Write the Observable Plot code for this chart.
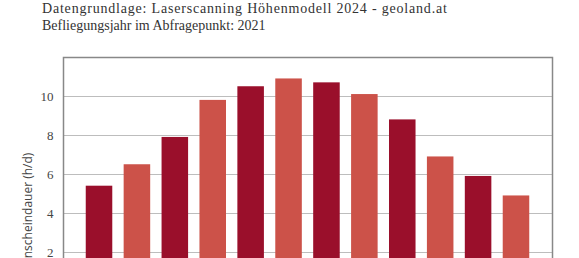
<!DOCTYPE html>
<html>
<head>
<meta charset="utf-8">
<script src="https://cdn.jsdelivr.net/npm/d3@7"></script>
<script src="https://cdn.jsdelivr.net/npm/@observablehq/plot@0.6"></script>
<style>
  html, body { margin: 0; padding: 0; background: #fff; overflow: hidden; }
  #title { padding-left: 42px; font-family: "Liberation Serif", serif; font-size: 14px; line-height: 17px; color: #333; height: 34px; white-space: nowrap; }
  #title .l1 { letter-spacing: 0.8px; }
  #chart svg { display: block; }
</style>
</head>
<body>
<div id="title">
  <div class="l1">Datengrundlage: Laserscanning Höhenmodell 2024 - geoland.at</div>
  <div>Befliegungsjahr im Abfragepunkt: 2021</div>
</div>
<div id="chart"></div>
<script>
const months = ["Jan", "Feb", "Mär", "Apr", "Mai", "Jun", "Jul", "Aug", "Sep", "Okt", "Nov", "Dez"];
const sunHours = [5.4, 6.5, 7.9, 9.8, 10.5, 10.9, 10.7, 10.1, 8.8, 6.9, 5.9, 4.9];
const yTicks = [2, 4, 6, 8, 10];

const data = months.map((m, i) => ({month: m, value: sunHours[i], idx: i}));
const dark = "#9a0f2b";
const light = "#cc5249";

const chart = Plot.plot({
  width: 579,
  height: 300,
  marginTop: 23,
  marginLeft: 63,
  marginRight: 27,
  marginBottom: 43,
  style: {fontFamily: "Liberation Serif, serif", fontSize: "13px", color: "#444", background: "#fff"},
  x: {domain: months, paddingInner: 0.3, paddingOuter: 0.6, round: false, label: null},
  y: {domain: [0, 12], label: null},
  marks: [
    Plot.gridY(yTicks, {stroke: "#bdbdbd", strokeOpacity: 1, strokeWidth: 1.2}),
    Plot.barY(data, {x: "month", y: "value", fill: d => d.idx % 2 ? light : dark}),
    Plot.frame({stroke: "#888", strokeWidth: 1.5}),
    Plot.axisY(yTicks, {tickSize: 0, tickPadding: 10, fontSize: 13, label: null}),
    Plot.axisX({tickSize: 0, tickPadding: 8, label: null}),
    Plot.text(["Sonnenscheindauer (h/d)"], {
      frameAnchor: "bottom-left", dx: -32, dy: 2, rotate: -90, textAnchor: "start",
      fontFamily: "Open Sans, sans-serif", fontSize: 12, fill: "#444"
    })
  ]
});
document.getElementById("chart").appendChild(chart);
</script>
</body>
</html>
